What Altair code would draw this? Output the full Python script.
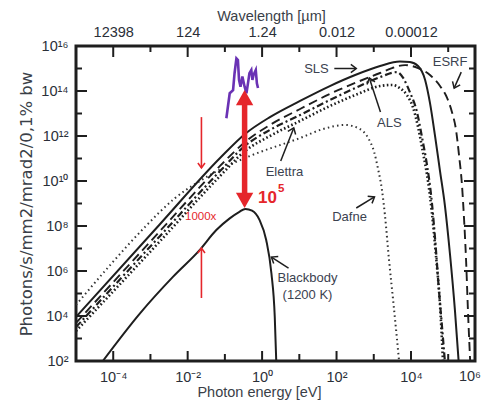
import math
import altair as alt
import pandas as pd

# ---------------- data (log10 values) ----------------
sls_logE = [-5.0, -2.74, -1.13, -0.46, 0.21, 1.02, 1.82, 2.50, 3.17, 3.70, 3.97, 4.19, 4.38, 4.51, 4.65, 4.78, 4.91, 5.05, 5.18, 5.28]
sls_logF = [3.96, 8.09, 11.02, 12.09, 12.84, 13.56, 14.22, 14.71, 15.11, 15.31, 15.29, 15.11, 14.49, 13.47, 11.96, 10.44, 8.93, 6.71, 4.27, 2.0]

esrf_logE = [-5.0, -2.74, -1.13, -0.46, 0.21, 1.02, 1.82, 2.50, 3.17, 3.49, 3.84, 4.19, 4.51, 4.78, 4.97, 5.10, 5.21, 5.29, 5.37, 5.42, 5.48, 5.53, 5.59]
esrf_logF = [3.69, 7.78, 10.67, 11.73, 12.49, 13.20, 13.87, 14.36, 14.80, 15.02, 15.15, 15.02, 14.71, 14.22, 13.69, 13.07, 12.27, 11.16, 9.82, 8.49, 6.49, 4.27, 2.0]

als_logE = [-5.0, -2.74, -1.13, -0.46, 0.21, 1.02, 1.82, 2.50, 3.17, 3.62, 3.79, 3.97, 4.16, 4.30, 4.43, 4.54, 4.65, 4.75, 4.83, 4.91]
als_logF = [3.51, 7.56, 10.44, 11.56, 12.27, 12.93, 13.60, 14.13, 14.62, 14.84, 14.58, 13.95, 13.07, 11.91, 10.71, 9.38, 7.38, 5.16, 3.60, 2.0]

elettra_logE = [-5.0, -2.74, -1.13, -0.46, 0.21, 1.02, 1.82, 2.50, 3.17, 3.49, 3.70, 3.89, 4.05, 4.19, 4.32, 4.46, 4.56, 4.67, 4.78, 4.86]
elettra_logF = [3.33, 7.33, 10.22, 11.33, 12.0, 12.67, 13.33, 13.82, 14.22, 14.27, 14.13, 13.82, 13.29, 12.40, 11.29, 9.96, 8.62, 6.71, 4.49, 2.0]

dafne_logE = [-5.0, -4.09, -3.15, -2.34, -1.67, -1.0, -0.33, 1.02, 1.64, 2.23, 2.63, 2.85, 3.01, 3.11, 3.22, 3.30, 3.41, 3.52, 3.60, 3.68]
dafne_logF = [4.49, 6.25, 7.95, 9.24, 10.0, 10.62, 11.11, 11.91, 12.31, 12.49, 12.31, 11.91, 11.29, 10.58, 9.60, 8.49, 6.49, 4.71, 3.38, 2.0]

bb_logE = [-4.28, -3.28, -2.39, -1.68, -1.23, -0.87, -0.62, -0.45, -0.27, -0.07, 0.11, 0.25, 0.34, 0.38]
bb_logF = [2.0, 4.12, 5.75, 6.93, 7.82, 8.34, 8.62, 8.76, 8.68, 8.27, 7.38, 5.9, 3.97, 2.0]

purple_logE = [-0.96, -0.87, -0.78, -0.74, -0.69, -0.65, -0.62, -0.58, -0.53, -0.47, -0.42, -0.38, -0.34, -0.29, -0.26, -0.23, -0.17, -0.14, -0.11]
purple_logF = [12.79, 13.9, 14.04, 14.79, 15.45, 15.38, 14.5, 14.19, 14.64, 14.19, 13.9, 14.34, 14.79, 14.93, 14.49, 14.71, 14.93, 14.34, 14.13]

# annotation labels
ann_text = ["SLS", "ESRF", "ALS", "Elettra", "Dafne", "Blackbody", "(1200 K)"]
ann_logE = [1.46, 5.05, 3.42, 0.60, 2.35, 1.22, 1.22]
ann_logF = [14.98, 15.29, 12.58, 10.40, 8.40, 5.69, 4.93]

# annotation arrows (from -> to)
arr_from_logE = [1.94, 5.35, 3.18, 0.50, 2.53, 0.71]
arr_from_logF = [15.0, 14.84, 13.07, 10.89, 8.80, 6.13]
arr_to_logE = [2.53, 5.16, 2.88, 0.85, 3.02, 0.25]
arr_to_logF = [15.0, 14.13, 14.58, 12.36, 9.29, 6.62]

# red annotations
red_thin_logE = [-1.63, -1.63]
red_thin_from_logF = [12.84, 4.80]
red_thin_to_logF = [10.58, 7.02]
big_arrow_logE = [-0.47]
big_arrow_low_logF = [8.80]
big_arrow_high_logF = [14.04]
red_text = ["1000x"]
red_text_logE = [-1.65]
red_text_logF = [8.40]
ratio_base = ["10"]
ratio_base_logE = [-0.11]
ratio_base_logF = [9.02]
ratio_exp = ["5"]
ratio_exp_logE = [0.43]
ratio_exp_logF = [9.51]

# axes
x_label_exps = [-4, -2, 0, 2, 4]
y_label_exps = [2, 4, 6, 8, 10, 12, 14, 16]
wavelength_labels = ["12398", "124", "1.24", "0.012", "0.00012"]
x_tick_major = [-4, -2, 0, 2, 4]
x_tick_minor = [-3, -1, 1, 3, 5]
y_tick_major = [4, 6, 8, 10, 12, 14]
y_tick_minor = [3, 5, 7, 9, 11, 13, 15]
extra_x_label = "10⁶"

# ---------------- layout / style ----------------
W, H = 399, 315
X_MIN, X_MAX = -5.0, 5.72
Y_MIN, Y_MAX = 2.0, 16.0
PX_X = W / (X_MAX - X_MIN)
PX_Y = H / (Y_MAX - Y_MIN)

FONT = "Liberation Sans"
INK = "#1e1e1e"
LABEL = "#2b2f38"
ANNOT = "#3b4250"
RED = "#e5262b"
PURPLE = "#6a32b4"

SUP = str.maketrans("-0123456789", "⁻⁰¹²³⁴⁵⁶⁷⁸⁹")


def pow_label(e):
    return "10" + str(e).translate(SUP)


def expr_from(exps, labels):
    expr = "''"
    for e, l in zip(reversed(exps), reversed(labels)):
        expr = f"round(log(datum.value)/LN10) == {e} ? '{l}' : ({expr})"
    return expr


def pw(vals):
    return [10.0 ** v for v in vals]


xscale = alt.Scale(type="log", domain=[10 ** X_MIN, 10 ** X_MAX], nice=False)
yscale = alt.Scale(type="log", domain=[10 ** Y_MIN, 10 ** Y_MAX], nice=False)

x_axis = alt.Axis(
    orient="bottom", values=pw(x_label_exps),
    labelExpr=expr_from(x_label_exps, [pow_label(e) for e in x_label_exps]),
    ticks=False, domain=False, grid=False, labelPadding=9, labelFlush=False,
    labelOverlap=False, title="Photon energy [eV]", titleX=183, titleY=35,
    titleBaseline="alphabetic",
)
y_axis = alt.Axis(
    orient="left", values=pw(y_label_exps),
    labelExpr=expr_from(y_label_exps, [pow_label(e) for e in y_label_exps]),
    ticks=False, domain=False, grid=False, labelPadding=8, labelFlush=False,
    labelOverlap=False, title="Photons/s/mm2/mrad2/0,1% bw", titleX=-45,
    titleY=H / 2, titleBaseline="alphabetic", titleFont="DejaVu Sans", titleFontSize=16.5,
)
top_axis = alt.Axis(
    orient="top", values=pw(x_label_exps),
    labelExpr=expr_from(x_label_exps, wavelength_labels),
    ticks=False, domain=False, grid=False, labelPadding=7, labelFlush=False,
    labelOverlap=False, title="Wavelength [µm]", titleX=195, titleY=-26,
    titleBaseline="alphabetic",
)


def X(f):
    return alt.X(f"{f}:Q", scale=xscale, axis=x_axis)


def Y(f):
    return alt.Y(f"{f}:Q", scale=yscale, axis=y_axis)


def curve_df(le, lf):
    return pd.DataFrame({"E": pw(le), "F": pw(lf)})


def curve(le, lf, dash, width, color=INK, interp="monotone"):
    kw = dict(color=color, strokeWidth=width, interpolate=interp, clip=True)
    if dash:
        kw["strokeDash"] = dash
    return alt.Chart(curve_df(le, lf)).mark_line(**kw).encode(x=X("E"), y=Y("F"), order=alt.Order("E:Q"))


def head_angle(x1, y1, x2, y2):
    dx = (x2 - x1) * PX_X
    dy = -(y2 - y1) * PX_Y
    return math.degrees(math.atan2(-dx, dy)) % 360


layers = []
layers.append(curve(dafne_logE, dafne_logF, [1.5, 3.2], 2.0, color="#333333"))
layers.append(curve(elettra_logE, elettra_logF, [1.6, 2.4], 2.6))
layers.append(curve(als_logE, als_logF, [7, 3, 2, 3], 2.2))
layers.append(curve(esrf_logE, esrf_logF, [9, 5], 1.9))
layers.append(curve(sls_logE, sls_logF, None, 2.0))
layers.append(curve(bb_logE, bb_logF, None, 2.0))
layers.append(curve(purple_logE, purple_logF, None, 2.6, color=PURPLE, interp="linear"))

# red double arrow
inset = 7 / PX_Y
big_df = pd.DataFrame({
    "E": pw(big_arrow_logE),
    "F1": pw([v + inset for v in big_arrow_low_logF]),
    "F2": pw([v - inset for v in big_arrow_high_logF]),
})
layers.append(alt.Chart(big_df).mark_rule(color=RED, strokeWidth=5.5).encode(
    x=X("E"), y=Y("F1"), y2=alt.Y2("F2")))
big_heads = pd.DataFrame({
    "E": pw(big_arrow_logE * 2),
    "F": pw(big_arrow_low_logF + big_arrow_high_logF),
    "ang": [0, 180],
})
layers.append(alt.Chart(big_heads).mark_point(
    shape="M-1,-1.75L0,0L1,-1.75Z", filled=True, color=RED, size=300, opacity=1
).encode(x=X("E"), y=Y("F"), angle=alt.Angle("ang:Q", scale=None)))

# thin red arrows
thin_df = pd.DataFrame({
    "E": pw(red_thin_logE), "F1": pw(red_thin_from_logF), "F2": pw(red_thin_to_logF),
    "ang": [head_angle(0, a, 0, b) for a, b in zip(red_thin_from_logF, red_thin_to_logF)],
})
layers.append(alt.Chart(thin_df).mark_rule(color=RED, strokeWidth=1.6).encode(
    x=X("E"), y=Y("F1"), y2=alt.Y2("F2")))
layers.append(alt.Chart(thin_df).mark_point(
    shape="M-1,-1.4L0,0L1,-1.4", filled=False, color=RED, size=50, strokeWidth=1.6, opacity=1
).encode(x=X("E"), y=Y("F2"), angle=alt.Angle("ang:Q", scale=None)))

# black annotation arrows
arr_df = pd.DataFrame({
    "x1": pw(arr_from_logE), "y1": pw(arr_from_logF),
    "x2": pw(arr_to_logE), "y2": pw(arr_to_logF),
    "ang": [head_angle(a, b, c, d) for a, b, c, d in zip(arr_from_logE, arr_from_logF, arr_to_logE, arr_to_logF)],
})
layers.append(alt.Chart(arr_df).mark_rule(color=INK, strokeWidth=1.5).encode(
    x=X("x1"), x2=alt.X2("x2"), y=Y("y1"), y2=alt.Y2("y2")))
layers.append(alt.Chart(arr_df).mark_point(
    shape="M-1,-1.3L0,0L1,-1.3", filled=False, color=INK, size=70, strokeWidth=1.5, opacity=1
).encode(x=X("x2"), y=Y("y2"), angle=alt.Angle("ang:Q", scale=None)))

# annotation texts
ann_df = pd.DataFrame({"E": pw(ann_logE), "F": pw(ann_logF), "t": ann_text})
layers.append(alt.Chart(ann_df).mark_text(
    font=FONT, fontSize=13, color=ANNOT, align="center", baseline="middle"
).encode(x=X("E"), y=Y("F"), text="t:N"))

red_df = pd.DataFrame({"E": pw(red_text_logE), "F": pw(red_text_logF), "t": red_text})
layers.append(alt.Chart(red_df).mark_text(
    font=FONT, fontSize=11.5, color=RED, align="center", baseline="middle"
).encode(x=X("E"), y=Y("F"), text="t:N"))

rb_df = pd.DataFrame({"E": pw(ratio_base_logE), "F": pw(ratio_base_logF), "t": ratio_base})
layers.append(alt.Chart(rb_df).mark_text(
    font=FONT, fontSize=17, fontWeight="bold", color=RED, align="left", baseline="alphabetic"
).encode(x=X("E"), y=Y("F"), text="t:N"))
re_df = pd.DataFrame({"E": pw(ratio_exp_logE), "F": pw(ratio_exp_logF), "t": ratio_exp})
layers.append(alt.Chart(re_df).mark_text(
    font=FONT, fontSize=11.5, fontWeight="bold", color=RED, align="left", baseline="alphabetic"
).encode(x=X("E"), y=Y("F"), text="t:N"))


# inward tick marks
def ticks_y(vals, x0, x1):
    return alt.Chart(pd.DataFrame({"F": pw(vals)})).mark_rule(color=INK, strokeWidth=2).encode(
        y=Y("F"), x=alt.value(x0), x2=alt.value(x1))


def ticks_x(vals, y0, y1):
    return alt.Chart(pd.DataFrame({"E": pw(vals)})).mark_rule(color=INK, strokeWidth=2).encode(
        x=X("E"), y=alt.value(y0), y2=alt.value(y1))


layers += [
    ticks_y(y_tick_major, 0, 11), ticks_y(y_tick_minor, 0, 6),
    ticks_y(y_tick_major, W, W - 11), ticks_y(y_tick_minor, W, W - 6),
    ticks_x(x_tick_major, H, H - 10), ticks_x(x_tick_minor, H, H - 7),
]

extra_df = pd.DataFrame({"t": [extra_x_label]})
layers.append(alt.Chart(extra_df).mark_text(
    font=FONT, fontSize=14.5, color=LABEL, align="right", baseline="top"
).encode(x=alt.value(W + 6), y=alt.value(H + 9), text="t:N"))

main = alt.layer(*layers)

top_df = pd.DataFrame({"E": pw(x_tick_major)})
top_minor_df = pd.DataFrame({"E": pw(x_tick_minor)})
top_layer = alt.layer(
    alt.Chart(top_df).mark_rule(color=INK, strokeWidth=2).encode(
        x=alt.X("E:Q", scale=xscale, axis=top_axis), y=alt.value(0), y2=alt.value(11)),
    alt.Chart(top_minor_df).mark_rule(color=INK, strokeWidth=2).encode(
        x=alt.X("E:Q", scale=xscale, axis=top_axis), y=alt.value(0), y2=alt.value(6)),
)

chart = alt.layer(main, top_layer).resolve_axis(x="independent").properties(
    width=W, height=H,
    autosize=alt.AutoSizeParams(type="none"),
    padding={"left": 68, "top": 38, "right": 6, "bottom": 39},
).configure_view(
    stroke=INK, strokeWidth=3
).configure_axis(
    labelFont=FONT, labelFontSize=14.5, labelColor=LABEL,
    titleFont=FONT, titleFontSize=14.5, titleColor="#3a3f48", titleFontWeight="normal",
)

chart.save("out.html", embed_options={"renderer": "svg", "actions": False})
